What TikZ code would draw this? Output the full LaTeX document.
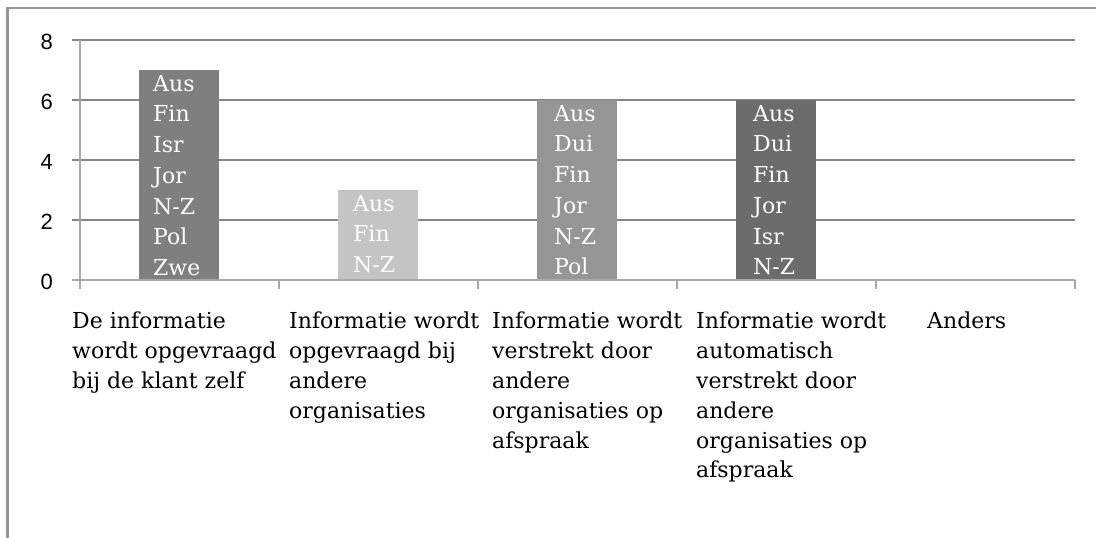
\documentclass[tikz,border=0pt]{standalone}
\usepackage{fontspec}
\setmainfont{DejaVu Serif}
\newfontfamily\axisfont{Liberation Sans}
\usetikzlibrary{positioning}
\definecolor{framegray}{RGB}{150,150,150}
\definecolor{gridgray}{RGB}{134,134,134}
\definecolor{axisgray}{RGB}{168,168,168}
\definecolor{barone}{RGB}{127,127,127}
\definecolor{bartwo}{RGB}{196,196,196}
\definecolor{barthree}{RGB}{150,150,150}
\definecolor{barfour}{RGB}{108,108,108}
\tikzset{
  frameline/.style = {draw=framegray, line width=2.6pt},
  gridline/.style  = {draw=gridgray, line width=2pt},
  axisline/.style  = {draw=axisgray, line width=2pt},
  numlabel/.style  = {anchor=east, inner sep=0pt, font=\axisfont\fontsize{22}{22}\selectfont},
  barlabel/.style  = {anchor=north west, inner sep=0pt, align=left, text=white,
                      font=\fontsize{22}{30.7}\selectfont},
  catlabel/.style  = {anchor=north west, inner sep=0pt, align=left,
                      font=\fontsize{22}{29.8}\selectfont}
}
\begin{document}
\begin{tikzpicture}[x=1pt, y=-1pt]
  \useasboundingbox (0,0) rectangle (1096,538);
  % frame
  \draw[frameline] (7.5,538) -- (7.5,8) -- (1096,8);
  % grid and value labels
  \foreach \v in {2,4,6,8}
    \draw[gridline] (72,280-30*\v) -- (1075,280-30*\v);
  \foreach \v in {0,2,4,6,8}
    \node[numlabel] (n\v) at (53,282-30*\v) {\v};
  % bars
  \fill[barone]   (139,280) rectangle (219,70);
  \fill[bartwo]   (338,280) rectangle (418,190);
  \fill[barthree] (537,280) rectangle (617,100);
  \fill[barfour]  (736,280) rectangle (816,100);
  % axes
  \draw[axisline] (72,280) -- (1075,280);
  \draw[axisline] (80,40) -- (80,289);
  \foreach \k in {1,...,5}
    \draw[axisline] (80+199*\k,280) -- (80+199*\k,289);
  % country labels inside the bars
  \node[barlabel] (b1) at (153,75)  {Aus\\Fin\\Isr\\Jor\\N-Z\\Pol\\Zwe};
  \node[barlabel] (b2) at (353,195) {Aus\\Fin\\N-Z};
  \node[barlabel] (b3) at (554,105) {Aus\\Dui\\Fin\\Jor\\N-Z\\Pol};
  \node[barlabel] (b4) at (753,105) {Aus\\Dui\\Fin\\Jor\\Isr\\N-Z};
  % category labels
  \node[catlabel] (c1) at (72,312)  {De informatie\\wordt opgevraagd\\bij de klant zelf};
  \node[catlabel] (c2) at (289,312) {Informatie wordt\\opgevraagd bij\\andere\\organisaties};
  \node[catlabel] (c3) at (492,312) {Informatie wordt\\verstrekt door\\andere\\organisaties op\\afspraak};
  \node[catlabel] (c4) at (696,312) {Informatie wordt\\automatisch\\verstrekt door\\andere\\organisaties op\\afspraak};
  \node[catlabel] (c5) at (927,312) {Anders};
\end{tikzpicture}
\end{document}
